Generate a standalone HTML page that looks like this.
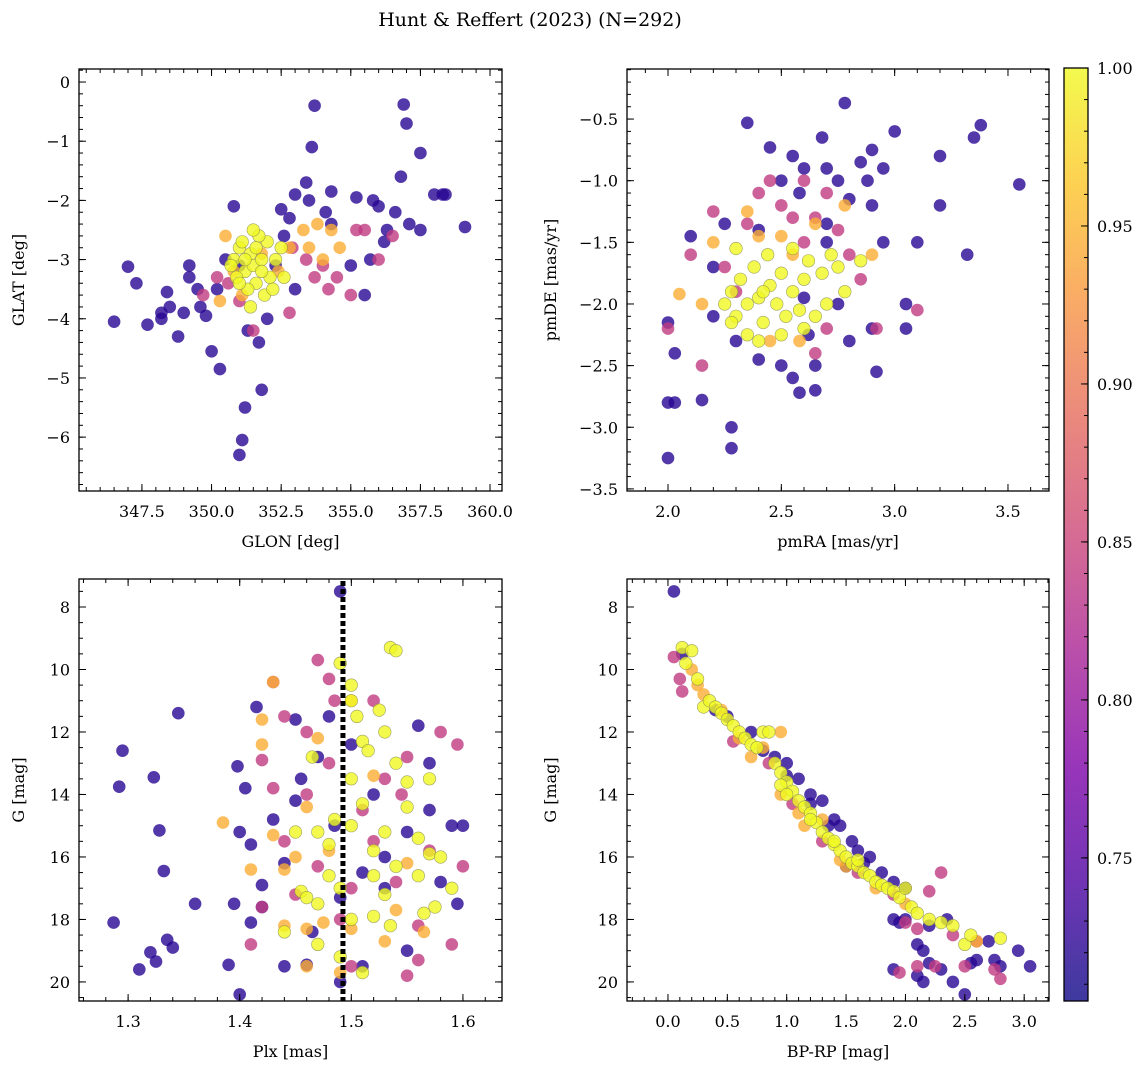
<!DOCTYPE html>
<html><head><meta charset="utf-8"><style>
html,body{margin:0;padding:0;background:#fff;}
svg{display:block;font-family:"DejaVu Serif","Liberation Serif",serif;}
</style></head><body>
<svg id="fig" width="1148" height="1068" viewBox="0 0 1148 1068" xmlns="http://www.w3.org/2000/svg">
<defs>
<linearGradient id="cbgrad" x1="0" y1="1" x2="0" y2="0">
<stop offset="0" stop-color="#0d0887"/><stop offset="0.125" stop-color="#4c02a1"/><stop offset="0.25" stop-color="#7e03a8"/><stop offset="0.375" stop-color="#a92395"/><stop offset="0.5" stop-color="#cc4778"/><stop offset="0.625" stop-color="#e56b5d"/><stop offset="0.75" stop-color="#f89540"/><stop offset="0.875" stop-color="#fdc527"/><stop offset="1" stop-color="#f0f921"/>
</linearGradient>
</defs>
<text x="530" y="26" text-anchor="middle" font-size="19">Hunt &amp; Reffert (2023) (N=292)</text>
</svg>
<script>
// group membership probabilities (dark, mid, orange, yellow)
const groupProb = [0.72, 0.84, 0.945, 1.0];
// Panel 1: GLON vs GLAT
const skyDark = [[346.5,-4.05],[347,-3.12],[347.3,-3.4],[347.7,-4.1],[348.2,-3.9],[348.4,-3.55],[348.5,-3.8],[348.2,-4.0],[348.8,-4.3],[349.2,-3.1],[349.0,-3.9],[349.5,-3.5],[349.6,-3.8],[349.8,-3.95],[350,-4.55],[350.2,-3.5],[350.3,-4.85],[350.5,-3.0],[350.8,-2.1],[351,-3.1],[351.2,-5.5],[351.1,-6.05],[351.0,-6.3],[351.7,-4.4],[351.8,-5.2],[352.0,-4.0],[352.3,-3.1],[352.5,-2.15],[352.8,-2.3],[353.0,-1.9],[353.4,-1.7],[353.5,-2.0],[353.6,-1.1],[353.7,-0.4],[354.1,-2.2],[354.3,-1.85],[354.3,-2.4],[355.2,-1.95],[355.5,-3.6],[355.8,-2.0],[356.0,-2.1],[356.3,-2.5],[356.6,-2.2],[356.8,-1.6],[356.9,-0.38],[357.0,-0.7],[357.1,-2.4],[357.5,-1.2],[357.5,-2.5],[358.0,-1.9],[358.3,-1.9],[358.4,-1.9],[359.1,-2.45],[355.0,-3.1],[355.7,-3.0],[356.2,-2.7],[353.0,-3.5],[352.6,-2.6],[351.3,-4.2],[349.2,-3.3]];
const skyMid = [[349.7,-3.6],[350.2,-3.3],[351.5,-4.2],[352.8,-3.9],[353.4,-3.0],[354,-3.1],[354.5,-3.3],[355,-3.6],[355.5,-2.5],[356,-3.0],[356.5,-2.6],[355.2,-2.5],[354.2,-3.5],[353.7,-3.3],[352.9,-2.8],[351,-3.7],[350.6,-3.4]];
const skyOrange = [[350.5,-2.6],[350.8,-3.2],[351.1,-3.6],[352.8,-2.8],[353.3,-2.5],[353.8,-2.4],[354.3,-2.5],[354.6,-2.8],[354.0,-3.0],[353.5,-2.8],[352.4,-3.2],[350.3,-3.7],[351.8,-2.9]];
const skyYellow = [[350.8,-3.0],[351.0,-2.8],[351.2,-3.2],[351.4,-2.9],[351.5,-3.1],[351.6,-3.4],[351.8,-3.0],[352.0,-2.7],[352.1,-3.3],[351.3,-3.5],[351.7,-2.6],[351.9,-3.6],[350.9,-3.3],[351.1,-2.7],[351.6,-2.8],[352.3,-3.0],[352.5,-2.8],[351.4,-3.8],[351.2,-3.0],[351.8,-3.2],[350.7,-3.1],[352.2,-3.5],[351.5,-2.5],[351.0,-3.4],[352.6,-3.3]];
// Panel 2: pmRA vs pmDE
const pmDark = [[2.0,-2.15],[2.0,-2.8],[2.0,-3.25],[2.03,-2.8],[2.03,-2.4],[2.15,-2.78],[2.1,-1.45],[2.2,-1.7],[2.28,-3.0],[2.28,-3.17],[2.35,-0.53],[2.4,-2.45],[2.5,-2.5],[2.55,-2.6],[2.58,-2.72],[2.6,-0.9],[2.65,-2.5],[2.65,-2.7],[2.7,-0.9],[2.78,-0.37],[2.85,-0.85],[2.88,-1.0],[2.9,-0.75],[2.95,-0.9],[3.0,-0.6],[3.05,-2.0],[3.1,-1.5],[3.2,-1.2],[3.2,-0.8],[3.32,-1.6],[3.35,-0.65],[3.38,-0.55],[3.55,-1.03],[2.92,-2.55],[2.58,-1.1],[2.5,-1.0],[2.75,-1.0],[2.8,-1.15],[2.9,-1.2],[2.7,-1.35],[2.95,-1.5],[2.2,-2.1],[2.3,-2.3],[2.45,-0.73],[2.55,-0.8],[2.68,-0.65],[2.4,-1.4],[3.05,-2.2],[2.9,-2.2],[2.75,-2.0],[2.8,-2.3],[2.25,-1.35],[2.6,-1.95],[2.7,-1.5],[2.62,-2.25]];
const pmMid = [[2.0,-2.2],[2.1,-1.6],[2.15,-2.5],[2.2,-1.25],[2.25,-1.7],[2.3,-1.9],[2.35,-1.35],[2.4,-1.1],[2.45,-1.0],[2.5,-1.2],[2.55,-1.3],[2.6,-1.5],[2.65,-1.3],[2.7,-1.1],[2.75,-1.4],[2.8,-1.6],[2.85,-1.8],[2.7,-2.2],[2.65,-2.4],[2.92,-2.2],[3.1,-2.05],[2.6,-1.0]];
const pmOrange = [[2.05,-1.92],[2.15,-2.0],[2.2,-1.5],[2.35,-1.25],[2.4,-1.45],[2.5,-1.45],[2.55,-1.6],[2.65,-1.35],[2.78,-1.2],[2.9,-1.6],[2.45,-2.3],[2.58,-2.3]];
const pmYellow = [[2.25,-2.0],[2.28,-1.9],[2.3,-2.1],[2.32,-1.8],[2.35,-2.0],[2.38,-1.7],[2.4,-1.95],[2.42,-2.15],[2.45,-1.85],[2.48,-2.0],[2.5,-1.75],[2.52,-2.1],[2.55,-1.9],[2.58,-2.05],[2.6,-1.8],[2.62,-1.65],[2.65,-2.1],[2.68,-1.75],[2.72,-1.6],[2.78,-1.9],[2.3,-1.55],[2.35,-2.25],[2.4,-2.3],[2.5,-2.25],[2.55,-1.55],[2.7,-2.0],[2.85,-1.65],[2.28,-2.15],[2.44,-1.6],[2.6,-2.2],[2.75,-1.7],[2.42,-1.9]];
// Panel 3: Plx vs G
const plxDark = [[1.287,18.1],[1.292,13.75],[1.295,12.6],[1.31,19.6],[1.32,19.05],[1.323,13.45],[1.325,19.35],[1.328,15.15],[1.332,16.45],[1.335,18.65],[1.34,18.9],[1.345,11.4],[1.36,17.5],[1.39,19.45],[1.395,17.5],[1.398,13.1],[1.4,15.2],[1.4,20.4],[1.405,13.8],[1.41,18.1],[1.415,11.2],[1.42,17.6],[1.43,14.8],[1.44,19.5],[1.45,11.6],[1.455,13.5],[1.46,19.45],[1.47,12.8],[1.48,11.5],[1.49,7.5],[1.485,15.0],[1.49,17.3],[1.51,19.5],[1.52,14.0],[1.53,16.0],[1.55,15.2],[1.56,11.8],[1.57,14.5],[1.58,16.8],[1.59,15.0],[1.595,17.5],[1.6,15.0],[1.5,12.4],[1.44,16.2],[1.42,16.9],[1.465,18.4],[1.53,17.0],[1.55,19.0],[1.57,13.0],[1.49,20.0],[1.45,14.2],[1.41,15.6],[1.51,16.5]];
const plxMid = [[1.42,12.9],[1.43,13.8],[1.44,15.5],[1.45,17.2],[1.46,14.0],[1.47,16.3],[1.48,13.0],[1.49,18.0],[1.5,17.0],[1.51,14.5],[1.52,15.5],[1.53,13.5],[1.54,16.8],[1.55,12.8],[1.56,18.2],[1.57,15.8],[1.58,12.0],[1.59,18.8],[1.6,16.3],[1.41,18.8],[1.47,9.7],[1.48,10.3],[1.46,12.0],[1.5,19.5],[1.55,19.8],[1.52,11.0],[1.44,11.5],[1.43,10.4],[1.56,19.3],[1.545,14.0],[1.485,11.0],[1.595,12.4],[1.42,17.6]];
const plxOrange = [[1.42,11.6],[1.42,12.4],[1.43,15.3],[1.44,18.2],[1.44,16.4],[1.45,16.0],[1.46,19.5],[1.47,12.2],[1.475,18.1],[1.49,19.7],[1.5,11.0],[1.5,18.3],[1.53,18.7],[1.54,17.7],[1.43,10.4],[1.46,14.4],[1.52,13.4],[1.48,15.8],[1.46,18.3],[1.55,16.2],[1.385,14.9],[1.41,16.4],[1.565,18.4]];
const plxYellow = [[1.49,9.8],[1.5,10.5],[1.535,9.3],[1.54,9.4],[1.5,11.0],[1.505,11.5],[1.51,12.3],[1.515,12.6],[1.53,12.0],[1.54,13.0],[1.55,13.6],[1.56,15.4],[1.57,15.9],[1.575,17.6],[1.58,16.0],[1.59,17.0],[1.47,15.2],[1.48,15.6],[1.48,16.6],[1.49,17.0],[1.5,13.5],[1.5,15.0],[1.51,14.3],[1.52,15.8],[1.52,16.6],[1.53,17.2],[1.54,16.3],[1.45,15.2],[1.455,17.1],[1.46,17.3],[1.47,18.8],[1.485,14.8],[1.49,19.2],[1.5,18.0],[1.51,19.7],[1.535,18.2],[1.56,16.6],[1.565,17.8],[1.55,14.4],[1.57,13.5],[1.525,11.3],[1.465,12.8],[1.44,18.4],[1.53,15.2],[1.47,17.5],[1.52,17.9]];
const refPlx = [1.4925];
// Panel 4: BP-RP vs G
const cmdDark = [[0.05,7.5],[0.5,11.5],[0.7,12.0],[0.9,12.8],[1.0,13.0],[1.1,13.5],[1.2,14.0],[1.3,14.2],[1.4,14.8],[1.45,15.0],[1.55,15.5],[1.5,16.3],[1.6,15.8],[1.7,16.0],[1.8,16.5],[1.9,16.8],[2.0,17.0],[1.9,18.0],[1.95,18.1],[1.9,19.6],[2.0,18.0],[2.1,18.8],[2.15,19.0],[2.1,19.8],[2.15,20.0],[2.2,19.4],[2.3,19.6],[2.4,20.0],[2.5,20.4],[2.55,19.4],[2.6,19.3],[2.7,18.7],[2.75,19.3],[2.8,19.5],[2.95,19.0],[3.05,19.5],[2.35,18.0],[2.2,18.2],[1.0,13.4],[0.8,12.6],[1.2,14.3],[1.35,15.0],[1.65,16.2],[0.12,9.5],[0.4,11.3]];
const cmdMid = [[0.05,9.6],[0.1,10.3],[0.12,10.7],[0.55,12.3],[0.85,13.0],[1.05,14.3],[1.3,15.5],[1.6,16.5],[1.9,17.2],[2.0,18.1],[2.1,18.3],[2.2,17.1],[2.25,19.5],[2.3,16.5],[2.4,18.5],[2.5,19.5],[2.6,18.7],[2.75,19.6],[2.8,19.9],[1.95,19.7],[2.1,19.5]];
const cmdOrange = [[0.2,10.0],[0.25,10.5],[0.3,10.8],[0.45,11.3],[0.6,12.2],[0.7,12.8],[0.95,14.0],[1.15,15.0],[1.45,16.1],[1.75,17.0],[1.3,14.8],[0.8,12.5],[1.1,14.6],[1.5,16.3],[2.0,17.5],[0.95,12.0],[2.6,18.7]];
const cmdYellow = [[0.12,9.3],[0.2,9.4],[0.15,9.8],[0.25,10.3],[0.3,11.2],[0.35,11.0],[0.4,11.2],[0.45,11.4],[0.5,11.6],[0.55,11.8],[0.6,12.0],[0.65,12.2],[0.7,12.4],[0.75,12.5],[0.8,12.0],[0.85,12.0],[0.9,13.0],[0.95,13.3],[1.0,13.6],[1.05,13.9],[1.1,14.2],[1.15,14.4],[1.2,14.6],[1.25,14.9],[1.3,15.2],[1.35,15.4],[1.4,15.6],[1.45,15.8],[1.5,16.0],[1.55,16.2],[1.6,16.3],[1.65,16.5],[1.7,16.6],[1.75,16.8],[1.8,16.9],[1.85,17.0],[1.9,17.1],[1.95,17.3],[2.0,17.0],[2.05,17.6],[2.1,17.8],[2.2,18.0],[2.3,18.1],[2.4,18.2],[2.5,18.8],[2.55,18.5],[2.8,18.6],[0.95,13.7],[1.0,14.0],[1.2,14.8],[1.4,15.5],[1.6,16.1]];
// colorbar ticks
const cbTicks = [0.75,0.80,0.85,0.90,0.95,1.00];
const cbRange = [0.7047, 1.0];

const NS = "http://www.w3.org/2000/svg";
const fig = document.getElementById('fig');
function el(tag, attrs, parent){const e=document.createElementNS(NS,tag);for(const k in attrs)e.setAttribute(k,attrs[k]);(parent||fig).appendChild(e);return e;}
const stops=[[0,[13,8,135]],[0.125,[76,2,161]],[0.25,[126,3,168]],[0.375,[169,35,149]],[0.5,[204,71,120]],[0.625,[229,107,93]],[0.75,[248,149,64]],[0.875,[253,197,39]],[1,[240,249,33]]];
function plasma(p){let t=(p-cbRange[0])/(cbRange[1]-cbRange[0]);t=Math.max(0,Math.min(1,t));for(let i=1;i<stops.length;i++){if(t<=stops[i][0]){const a=stops[i-1],b=stops[i];const f=(t-a[0])/(b[0]-a[0]);const c=a[1].map((v,j)=>Math.round(v+(b[1][j]-v)*f));return `rgb(${c.join(',')})`;}}return 'rgb(240,249,33)';}
function fmt(v,d){const s=Math.abs(v).toFixed(d);return (v<-1e-9?'\u2212':'')+s;}

function panel(cfg){
  const g=el('g',{});
  
  
  const {x0,y0,x1,y1}=cfg.box;
  const sx=v=>x0+(v-cfg.xd[0])/(cfg.xd[1]-cfg.xd[0])*(x1-x0);
  const sy=cfg.invert? (v=>y0+(v-cfg.yd[0])/(cfg.yd[1]-cfg.yd[0])*(y1-y0)) : (v=>y1-(v-cfg.yd[0])/(cfg.yd[1]-cfg.yd[0])*(y1-y0));
  const pts=el('g',{},g);
  
  
  cfg.groups.forEach((grp,gi)=>{
    const p=groupProb[gi];
    grp.forEach(d=>{
      const c=el('circle',{cx:sx(d[0]).toFixed(1),cy:sy(d[1]).toFixed(1),r:6.3,fill:plasma(p),'fill-opacity':0.8,stroke:gi===3?'#8a8a50':'none','stroke-width':0.6,'stroke-opacity':0.8},pts);
      
      
    });
  });
  if(cfg.vline){cfg.vline.forEach(v=>{const l=el('line',{x1:sx(v),x2:sx(v),y1:y0+2,y2:y1,stroke:'#000','stroke-width':5,'stroke-dasharray':'5 3'},g);});}
  const fr=el('rect',{x:x0,y:y0,width:x1-x0,height:y1-y0,fill:'none',stroke:'#000','stroke-width':1.3},g);
  
  
  const tk=el('g',{stroke:'#000','stroke-width':1},g);
  const eps=1e-9;
  for(let v=Math.ceil(cfg.xd[0]/cfg.xmin-eps)*cfg.xmin;v<=cfg.xd[1]+eps;v+=cfg.xmin){const X=sx(v);el('line',{x1:X,x2:X,y1:y1,y2:y1-4},tk);el('line',{x1:X,x2:X,y1:y0,y2:y0+4},tk);}
  for(let v=Math.ceil(cfg.yd[0]/cfg.ymin-eps)*cfg.ymin;v<=cfg.yd[1]+eps;v+=cfg.ymin){const Y=sy(v);el('line',{x1:x0,x2:x0+4,y1:Y,y2:Y},tk);el('line',{x1:x1,x2:x1-4,y1:Y,y2:Y},tk);}
  cfg.xt.forEach(v=>{const X=sx(v);el('line',{x1:X,x2:X,y1:y1,y2:y1-7},tk);el('line',{x1:X,x2:X,y1:y0,y2:y0+7},tk);
    const t=el('text',{x:X,y:y1+26,'text-anchor':'middle','font-size':16},g);t.textContent=fmt(v,cfg.xdec);});
  cfg.yt.forEach(v=>{const Y=sy(v);el('line',{x1:x0,x2:x0+7,y1:Y,y2:Y},tk);el('line',{x1:x1,x2:x1-7,y1:Y,y2:Y},tk);
    const t=el('text',{x:x0-9,y:Y+6,'text-anchor':'end','font-size':16},g);t.textContent=fmt(v,cfg.ydec);});
  const xl=el('text',{x:(x0+x1)/2,y:y1+56,'text-anchor':'middle','font-size':16},g);xl.textContent=cfg.xlabel;
  
  
  const yc=(y0+y1)/2;
  const yl=el('text',{x:cfg.ylx,y:yc,'text-anchor':'middle','font-size':16,transform:`rotate(-90 ${cfg.ylx} ${yc})`},g);yl.textContent=cfg.ylabel;
  
  
}

panel({name:'sky-position-panel',box:{x0:79,y0:69,x1:502,y1:491},xd:[345.24,360.43],yd:[-6.91,0.22],xt:[347.5,350,352.5,355,357.5,360],xmin:0.5,yt:[-6,-5,-4,-3,-2,-1,0],ymin:0.2,xdec:1,ydec:0,xlabel:'GLON [deg]',ylabel:'GLAT [deg]',ylx:24,groups:[skyDark,skyMid,skyOrange,skyYellow]});
panel({name:'proper-motion-panel',box:{x0:627,y0:69,x1:1049,y1:491},xd:[1.819,3.681],yd:[-3.517,-0.094],xt:[2.0,2.5,3.0,3.5],xmin:0.1,yt:[-3.5,-3.0,-2.5,-2.0,-1.5,-1.0,-0.5],ymin:0.1,xdec:1,ydec:1,xlabel:'pmRA [mas/yr]',ylabel:'pmDE [mas/yr]',ylx:556,groups:[pmDark,pmMid,pmOrange,pmYellow]});
panel({name:'parallax-magnitude-panel',box:{x0:79,y0:579,x1:502,y1:1001},xd:[1.256,1.635],yd:[7.104,20.61],invert:true,xt:[1.3,1.4,1.5,1.6],xmin:0.02,yt:[8,10,12,14,16,18,20],ymin:0.5,xdec:1,ydec:0,xlabel:'Plx [mas]',ylabel:'G [mag]',ylx:24,groups:[plxDark,plxMid,plxOrange,plxYellow],vline:refPlx});
panel({name:'color-magnitude-panel',box:{x0:627,y0:579,x1:1049,y1:1001},xd:[-0.345,3.209],yd:[7.104,20.61],invert:true,xt:[0,0.5,1.0,1.5,2.0,2.5,3.0],xmin:0.1,yt:[8,10,12,14,16,18,20],ymin:0.5,xdec:1,ydec:0,xlabel:'BP-RP [mag]',ylabel:'G [mag]',ylx:556,groups:[cmdDark,cmdMid,cmdOrange,cmdYellow]});

// colorbar
const cb=el('g',{});


const cbx0=1064,cbx1=1088,cby0=68,cby1=1001;
el('rect',{x:cbx0,y:cby0,width:cbx1-cbx0,height:cby1-cby0,fill:'url(#cbgrad)','fill-opacity':0.8},cb);
el('rect',{x:cbx0,y:cby0,width:cbx1-cbx0,height:cby1-cby0,fill:'none',stroke:'#000','stroke-width':1.3},cb);
const cy=v=>cby1-(v-cbRange[0])/(cbRange[1]-cbRange[0])*(cby1-cby0);
for(let v=0.71;v<=1.0001;v+=0.01){el('line',{x1:cbx1,x2:cbx1-4,y1:cy(v),y2:cy(v),stroke:'#000','stroke-width':1},cb);}
cbTicks.forEach(v=>{el('line',{x1:cbx1,x2:cbx1-7,y1:cy(v),y2:cy(v),stroke:'#000','stroke-width':1},cb);
  const t=el('text',{x:1097,y:cy(v)+6,'font-size':16},cb);t.textContent=v.toFixed(2);
  
  
});
</script>
</body></html>
